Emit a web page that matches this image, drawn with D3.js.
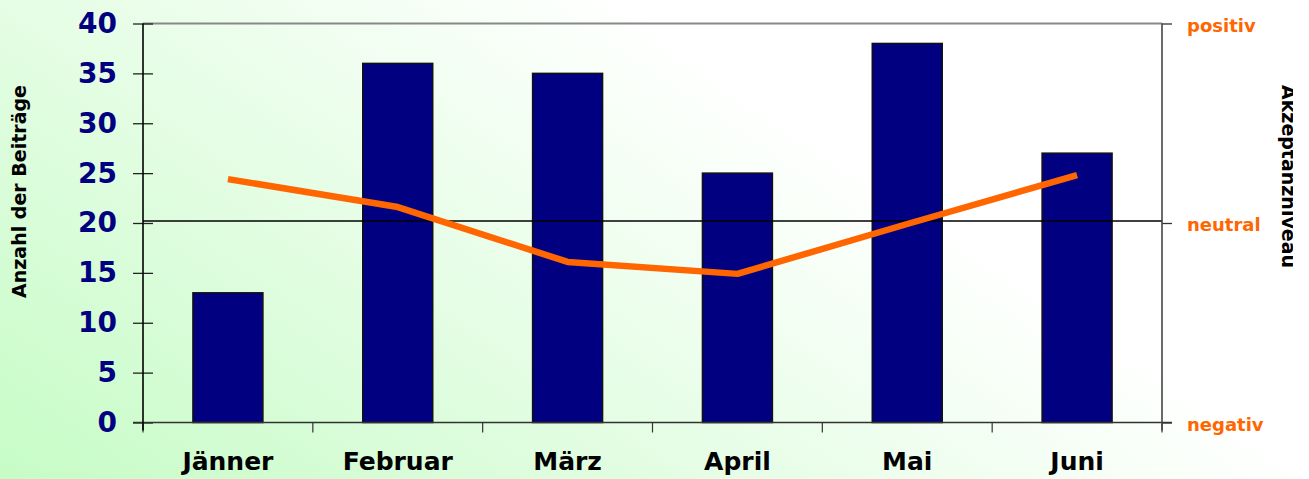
<!DOCTYPE html>
<html>
<head>
<meta charset="utf-8">
<script src="https://cdn.jsdelivr.net/npm/d3@7"></script>
<style>
  html, body { margin: 0; padding: 0; overflow: hidden; }
  text { font-family: "DejaVu Sans", Verdana, sans-serif; font-weight: bold; }
</style>
</head>
<body>
<svg id="chart" width="1309" height="479"></svg>
<script>
/// data
var months = ["Jänner", "Februar", "März", "April", "Mai", "Juni"];
var beitraege = [13, 36, 35, 25, 38, 27];
var akzeptanz = [0.22, 0.08, -0.195, -0.255, -0.005, 0.24];
var leftTicks = [0, 5, 10, 15, 20, 25, 30, 35, 40];
var rightTicks = [-1, 0, 1];
var rightLabels = ["negativ", "neutral", "positiv"];
var refLine = 20.2;

/// dimensions
var W = 1309, H = 479;
var plot = {left: 143, right: 1162, top: 23.5, bottom: 422.5};

var svg = d3.select("#chart");

/// background gradient (green bottom-left -> white top-right)
var defs = svg.append("defs");
var grad = defs.append("linearGradient")
               .attr("id", "bg")
               .attr("gradientUnits", "userSpaceOnUse")
               .attr("x1", 0).attr("y1", H)
               .attr("x2", 420).attr("y2", -140);
grad.append("stop").attr("offset", 0).attr("stop-color", "#c6fcc6");
grad.append("stop").attr("offset", 0.45).attr("stop-color", "#e0fde0");
grad.append("stop").attr("offset", 1).attr("stop-color", "#ffffff");

defs.append("clipPath")
    .attr("id", "clipR")
    .append("rect")
    .attr("x", 0).attr("y", 0)
    .attr("width", 1293).attr("height", H);

svg.append("rect")
   .attr("width", W).attr("height", H)
   .attr("fill", "url(#bg)");

/// scales
var x = d3.scaleBand()
          .domain(months)
          .range([plot.left, plot.right])
          .padding(0);

var y = d3.scaleLinear()
          .domain([0, 40])
          .range([plot.bottom, plot.top]);

var yR = d3.scaleLinear()
           .domain([-1, 1])
           .range([plot.bottom, plot.top]);

var barW = x.bandwidth() * 0.412;

/// top border
svg.append("line")
   .attr("x1", plot.left).attr("x2", plot.right)
   .attr("y1", plot.top).attr("y2", plot.top)
   .attr("stroke", "#888").attr("stroke-width", 2);

/// bars
svg.selectAll(".bar")
   .data(beitraege)
   .enter()
   .append("rect")
   .attr("class", "bar")
   .attr("x", (d, i) => x(months[i]) + x.bandwidth() / 2 - barW / 2)
   .attr("width", barW)
   .attr("y", d => y(d))
   .attr("height", d => y(0) - y(d))
   .attr("fill", "#000080")
   .attr("stroke", "#111")
   .attr("stroke-width", 1.5);

/// neutral line
svg.append("line")
   .attr("x1", plot.left).attr("x2", plot.right)
   .attr("y1", y(refLine)).attr("y2", y(refLine))
   .attr("stroke", "#000").attr("stroke-width", 1.6);

/// left axis
var gL = svg.append("g")
            .attr("transform", "translate(" + plot.left + ",0)")
            .call(d3.axisLeft(y)
                    .tickValues(leftTicks)
                    .tickSizeInner(10)
                    .tickSizeOuter(0)
                    .tickPadding(16));
gL.select(".domain").remove();
gL.selectAll(".tick line").attr("x1", 10).attr("stroke", "#222").attr("stroke-width", 1.3);
gL.selectAll(".tick text")
  .attr("font-size", "28px")
  .attr("font-family", "DejaVu Sans")
  .attr("font-weight", "bold")
  .attr("fill", "#000080");

/// right axis
var gR = svg.append("g")
            .attr("transform", "translate(" + plot.right + ",0)")
            .call(d3.axisRight(yR)
                    .tickValues(rightTicks)
                    .tickFormat((d, i) => rightLabels[i])
                    .tickSizeInner(10)
                    .tickSizeOuter(0)
                    .tickPadding(15));
gR.select(".domain").remove();
gR.selectAll(".tick line").attr("stroke", "#333").attr("stroke-width", 1.3);
gR.selectAll(".tick text")
  .attr("dy", "0.42em")
  .attr("font-size", "18px")
  .attr("font-family", "DejaVu Sans")
  .attr("font-weight", "bold")
  .attr("fill", "#ff6600");

/// bottom axis (labels only, ticks at band edges)
var gB = svg.append("g")
            .attr("transform", "translate(0," + plot.bottom + ")")
            .call(d3.axisBottom(x).tickSize(0).tickPadding(30));
gB.select(".domain").remove();
gB.selectAll(".tick text")
  .attr("font-size", "25px")
  .attr("font-family", "DejaVu Sans")
  .attr("font-weight", "bold")
  .attr("fill", "#000");

var edges = months.map(m => x(m)).concat([x.range()[1]]);
svg.selectAll(".edgeTick")
   .data(edges)
   .enter()
   .append("line")
   .attr("class", "edgeTick")
   .attr("x1", d => d).attr("x2", d => d)
   .attr("y1", plot.bottom).attr("y2", plot.bottom + 10)
   .attr("stroke", "#333").attr("stroke-width", 1.2);

/// axis lines
svg.append("line")
   .attr("x1", plot.left - 10).attr("x2", plot.right + 10)
   .attr("y1", plot.bottom).attr("y2", plot.bottom)
   .attr("stroke", "#333").attr("stroke-width", 1.6);

svg.append("line")
   .attr("x1", plot.left).attr("x2", plot.left)
   .attr("y1", plot.top).attr("y2", plot.bottom + 8)
   .attr("stroke", "#000").attr("stroke-width", 1.6);

svg.append("line")
   .attr("x1", plot.right).attr("x2", plot.right)
   .attr("y1", plot.top).attr("y2", plot.bottom + 8)
   .attr("stroke", "#444").attr("stroke-width", 1.6);

/// acceptance line
var line = d3.line()
             .x((d, i) => x(months[i]) + x.bandwidth() / 2)
             .y(d => yR(d));

svg.append("path")
   .datum(akzeptanz)
   .attr("d", line)
   .attr("fill", "none")
   .attr("stroke", "#ff6600")
   .attr("stroke-width", 6.5)
   .attr("stroke-linejoin", "round");

/// axis titles
svg.append("text")
   .attr("transform", "translate(26,191.5) rotate(-90)")
   .attr("text-anchor", "middle")
   .attr("font-size", "19px")
   .attr("fill", "#000")
   .text("Anzahl der Beiträge");

// right title is cut off at the right edge in the original
svg.append("g")
   .attr("clip-path", "url(#clipR)")
   .append("text")
   .attr("transform", "translate(1282,176.5) rotate(90)")
   .attr("text-anchor", "middle")
   .attr("font-size", "19px")
   .attr("fill", "#000")
   .text("Akzeptanzniveau");
</script>
</body>
</html>
